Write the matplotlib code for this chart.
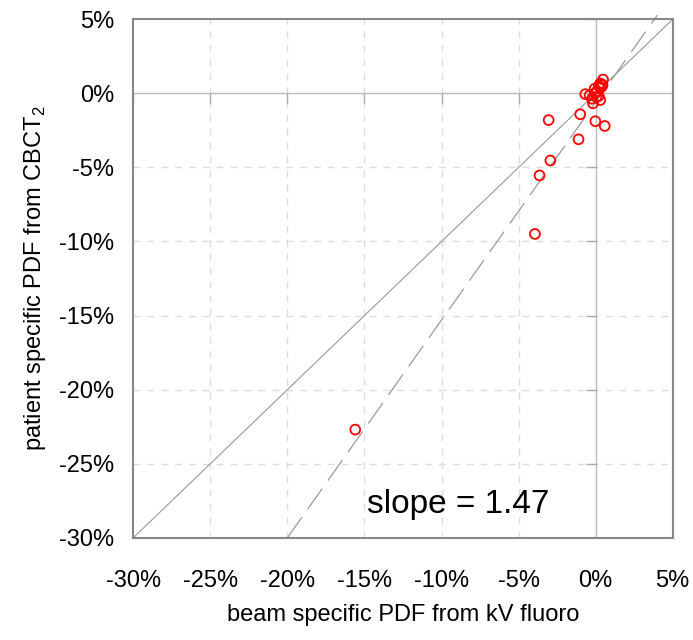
import matplotlib
matplotlib.use("Agg")
import matplotlib.pyplot as plt
from matplotlib.ticker import FuncFormatter

plt.rcParams['font.family'] = ['Liberation Sans', 'DejaVu Sans']
plt.rcParams['mathtext.fontset'] = 'custom'
plt.rcParams['mathtext.rm'] = 'Liberation Sans'

# percent values
beam_pdf = [0.48, 0.30, 0.41, 0.20, 0.35, -0.07, 0.10, -0.67, -0.39, -0.24, -0.17,
            0.30, 0.20, -0.02, 0.45, 0.05, -1.00, -3.05, -0.02, 0.59, -1.11,
            -2.94, -3.64, -3.94, -15.6]
patient_pdf = [0.94, 0.67, 0.60, 0.50, 0.40, 0.31, 0.15, -0.05, -0.13, -0.36, -0.67,
               -0.45, -0.18, 0.05, 0.55, -0.25, -1.41, -1.80, -1.88, -2.20, -3.10,
               -4.53, -5.54, -9.49, -22.7]

slope = 1.47
intercept = -0.6
fit_x = [-20.0, 4.0]
ticks = [-30, -25, -20, -15, -10, -5, 0, 5]

fig = plt.figure(figsize=(6.93, 6.4), dpi=100)
ax = fig.add_axes([0.1924, 0.1598, 0.9707 - 0.1924, 0.9698 - 0.1598])

ax.set_xlim(-30, 5)
ax.set_ylim(-30, 5)
ax.set_xticks(ticks)
ax.set_yticks(ticks)
pct = FuncFormatter(lambda v, _: "{:.0f}%".format(v))
ax.xaxis.set_major_formatter(pct)
ax.yaxis.set_major_formatter(pct)
ax.tick_params(length=0, labelsize=17)
ax.tick_params(axis='x', pad=23)
ax.tick_params(axis='y', pad=14)

for s in ax.spines.values():
    s.set_color('#888888')
    s.set_linewidth(1.5)

# grid (dashed), skipping zero which is drawn as a solid axis line
for t in ticks[1:-1]:
    if t == 0:
        continue
    ax.axvline(t, color='#dddddd', lw=1, dashes=(5, 5), zorder=0)
    ax.axhline(t, color='#dddddd', lw=1, dashes=(5, 5), zorder=0)
ax.axvline(0, color='#bbbbbb', lw=1, zorder=1)
ax.axhline(0, color='#bbbbbb', lw=1, zorder=1)
# tics on the zero axes
ax.plot([0] * len(ticks), ticks, ls='none', marker=0, ms=7, mew=1, color='#aaaaaa', zorder=1)
ax.plot(ticks, [0] * len(ticks), ls='none', marker=3, ms=7, mew=1, color='#aaaaaa', zorder=1)

# identity and fit lines
ax.plot([-30, 5], [-30, 5], color='#999999', lw=0.8, zorder=2)
fit_y = [slope * v + intercept for v in fit_x]
ax.plot(fit_x, fit_y, color='#999999', lw=0.9, dashes=(20, 8), zorder=2, clip_on=False)

ax.scatter(beam_pdf, patient_pdf, s=50, facecolors='none', edgecolors='red',
           linewidths=1.3, zorder=3)

ax.text(-8.9, -28.3, "slope = {:.2f}".format(slope), fontsize=24, ha='center', va='baseline')

ax.set_xlabel("beam specific PDF from kV fluoro", fontsize=17, labelpad=9)
ax.set_ylabel("patient specific PDF from CBCT$_\\mathrm{2}$", fontsize=17, labelpad=8)

fig.savefig("out.png", dpi=100)
